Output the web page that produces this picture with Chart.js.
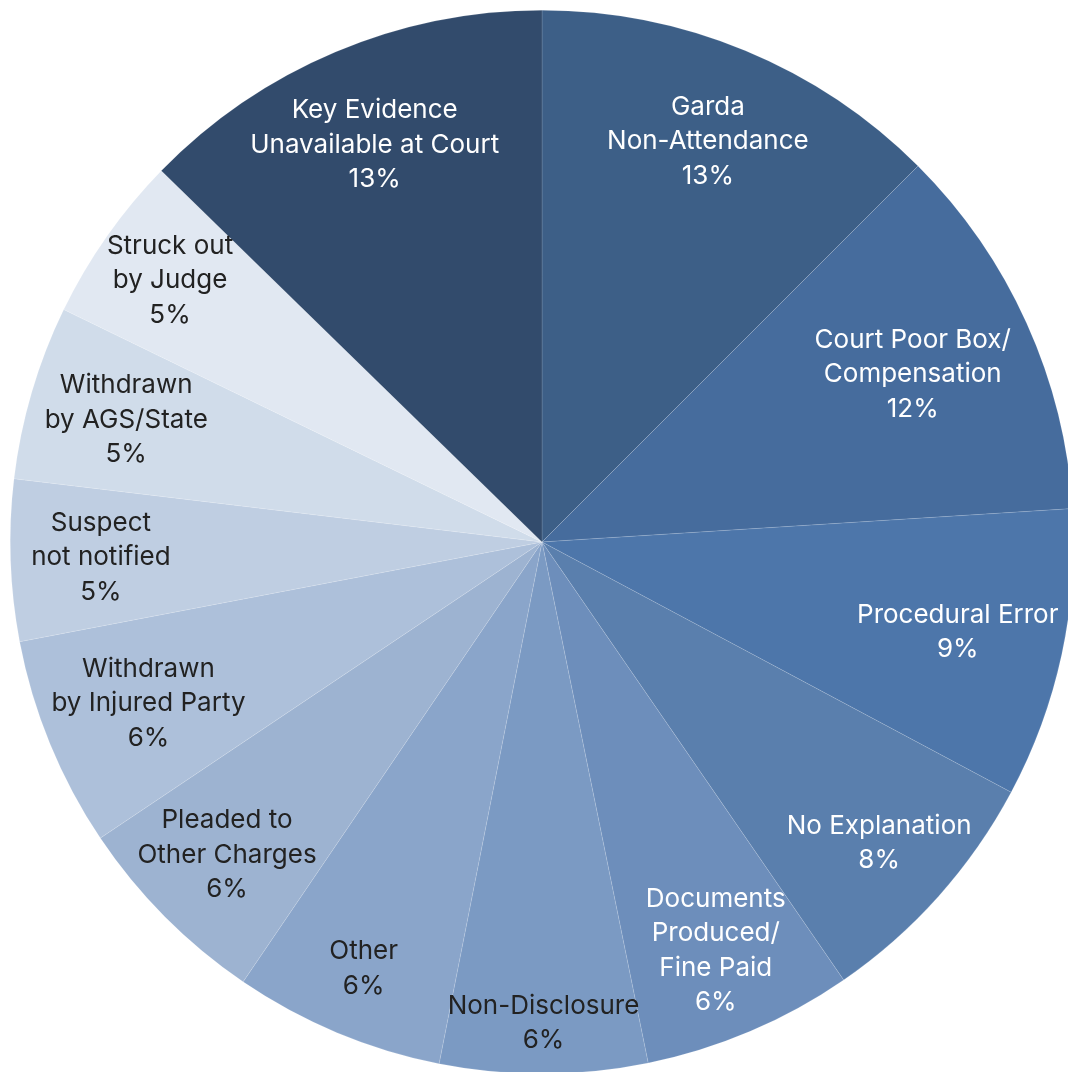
<!DOCTYPE html>
<html>
<head>
<meta charset="utf-8">
<script src="https://cdn.jsdelivr.net/npm/chart.js@4.4.0/dist/chart.umd.min.js"></script>
<style>
  html, body { margin: 0; padding: 0; background: #fff; overflow: hidden; }
  #wrap { position: absolute; left: 0; top: 0; width: 1084px; height: 1084px; }
</style>
</head>
<body>
<div id="wrap"><canvas id="myChart"></canvas></div>
<script>
// reasons cases were dismissed, share of total (%)
const reasons = [
  ['Garda', 'Non-Attendance'],
  ['Court Poor Box/', 'Compensation'],
  ['Procedural Error'],
  ['No Explanation'],
  ['Documents', 'Produced/', 'Fine Paid'],
  ['Non-Disclosure'],
  ['Other'],
  ['Pleaded to', 'Other Charges'],
  ['Withdrawn', 'by Injured Party'],
  ['Suspect', 'not notified'],
  ['Withdrawn', 'by AGS/State'],
  ['Struck out', 'by Judge'],
  ['Key Evidence', 'Unavailable at Court']
];
const shares = [12.5, 11.5, 8.8, 7.6, 6.4, 6.3, 6.4, 6.1, 6.4, 4.9, 5.3, 5.1, 12.7];

const sliceColors = [
  '#3d5f87', '#466c9d', '#4d76aa', '#5a7fad', '#6d8ebb', '#7b9ac3', '#8aa5ca',
  '#9db3d1', '#adc0da', '#bfcee2', '#d0dcea', '#e1e8f2', '#324b6c'
];
const textColors = [
  '#fff', '#fff', '#fff', '#fff', '#fff', '#222', '#222',
  '#222', '#222', '#222', '#222', '#222', '#fff'
];
// how far out each label sits, as a fraction of the radius
const labelRadius = [0.815, 0.765, 0.80, 0.85, 0.835, 0.905, 0.87, 0.835, 0.80, 0.83, 0.815, 0.855, 0.81];

const sliceLabels = {
  id: 'sliceLabels',
  afterDatasetsDraw(chart) {
    const ctx = chart.ctx;
    const arcs = chart.getDatasetMeta(0).data;
    ctx.save();
    ctx.font = '26px Inter, sans-serif';
    ctx.textAlign = 'center';
    ctx.textBaseline = 'middle';
    const lineH = 34.5;
    arcs.forEach((arc, i) => {
      const p = arc.getProps(['x', 'y', 'startAngle', 'endAngle', 'outerRadius'], true);
      const mid = (p.startAngle + p.endAngle) / 2;
      const r = p.outerRadius * labelRadius[i];
      const cx = p.x + Math.cos(mid) * r;
      const cy = p.y + Math.sin(mid) * r;
      const lines = reasons[i].concat([Math.round(shares[i]) + '%']);
      ctx.fillStyle = textColors[i];
      lines.forEach((t, j) => {
        ctx.fillText(t, cx, cy + (j - (lines.length - 1) / 2) * lineH);
      });
    });
    ctx.restore();
  }
};

let myChart = new Chart(document.getElementById('myChart'), {
  type: 'pie',
  data: {
    labels: reasons.map(l => l.join(' ')),
    datasets: [{
      data: shares,
      backgroundColor: sliceColors,
      borderColor: 'rgba(255,255,255,0.25)',
      borderWidth: 0.5,
      hoverOffset: 0
    }]
  },
  options: {
    responsive: true,
    maintainAspectRatio: false,
    animation: false,
    layout: { padding: 10 },
    plugins: { legend: { display: false }, tooltip: { enabled: false } }
  },
  plugins: [sliceLabels]
});
</script>
</body>
</html>
